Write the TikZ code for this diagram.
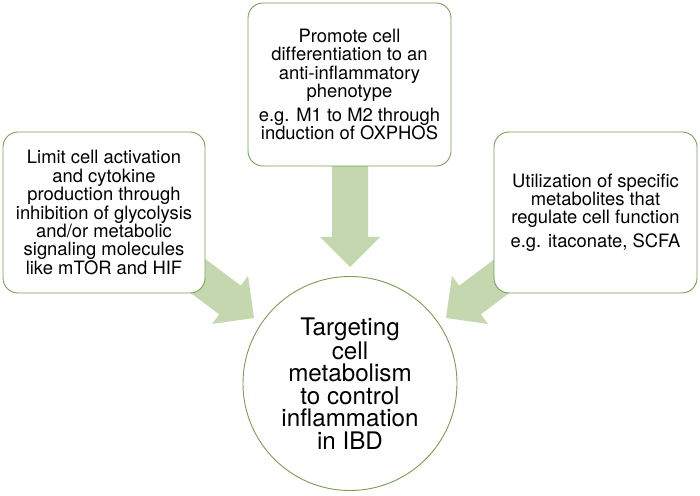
\documentclass[tikz,border=0pt]{standalone}
\usepackage{fontspec}
\setmainfont[Ligatures=NoCommon]{TeX Gyre Heros}
\definecolor{boxline}{HTML}{7A9E52}
\definecolor{arrowfill}{HTML}{C4D7AE}
\tikzset{
  textbox/.style={draw=boxline, line width=0.9pt, fill=white, rounded corners=15pt,
    minimum width=202pt, minimum height=161pt, align=center, inner sep=0pt,
    font=\fontsize{18.4pt}{18.4pt}\selectfont},
  hub/.style={draw=boxline, line width=0.9pt, fill=white, circle, minimum size=214pt,
    align=center, inner sep=0pt, font=\fontsize{24.2pt}{22.6pt}\selectfont},
  blockarrow/.style={fill=arrowfill, draw=none}
}
\newcommand\fatarrow[2]{%
  \fill[blockarrow, shift={#1}, rotate=#2]
    (-71pt,-18pt) -- (0pt,-18pt) -- (0pt,-30pt) -- (30pt,0pt) -- (0pt,30pt)
    -- (0pt,18pt) -- (-71pt,18pt) -- cycle;}
\begin{document}
\begin{tikzpicture}[x=1pt,y=1pt]
\useasboundingbox (0,0) rectangle (700,495);
% arrows (drawn first, boxes on top)
\coordinate (aTop) at (350,258);
\coordinate (aLeft) at (230,195);
\coordinate (aRight) at (470,195);
\fatarrow{(aTop)}{-90}
\fatarrow{(aLeft)}{-36.87}
\fatarrow{(aRight)}{-143.13}
% boxes
\node[textbox] (left) at (104,282.5) {Limit cell activation\\ and cytokine\\ production through\\ inhibition of glycolysis\\ and/or metabolic\\ signaling molecules\\ like mTOR and HIF};
\node[textbox, minimum width=203pt, minimum height=163pt] (top) at (349.5,410.5) {Promote cell\\ differentiation to an\\ anti-inflammatory\\ phenotype\\[5pt] e.g. M1 to M2 through\\ induction of OXPHOS};
\node[textbox, minimum width=203pt] (right) at (595.5,282.5) {Utilization of specific\\ metabolites that\\ regulate cell function\\[5pt] e.g. itaconate, SCFA};
\node[hub] (hub) at (350,111.5) {Targeting\\ cell\\ metabolism\\ to control\\ inflammation\\ in IBD};
\end{tikzpicture}
\end{document}
